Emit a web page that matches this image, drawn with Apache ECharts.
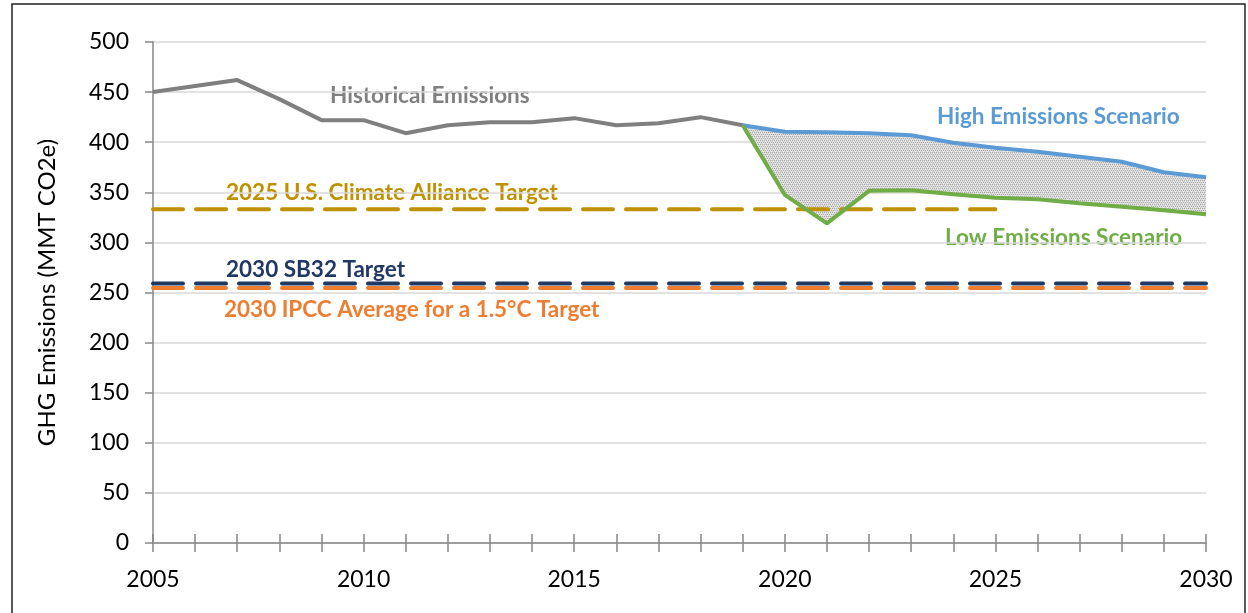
<!DOCTYPE html>
<html>
<head>
<meta charset="utf-8">
<script src="https://cdn.jsdelivr.net/npm/echarts@6/dist/echarts.min.js"></script>
<style>
  html, body { margin: 0; padding: 0; background: #fff; }
  #chart { width: 1248px; height: 613px; }
</style>
</head>
<body>
<div id="chart"></div>
<script>
// data
const years = [2005, 2006, 2007, 2008, 2009, 2010, 2011, 2012, 2013, 2014, 2015, 2016, 2017,
  2018, 2019, 2020, 2021, 2022, 2023, 2024, 2025, 2026, 2027, 2028, 2029, 2030]
const histYears = [2005, 2006, 2007, 2008, 2009, 2010, 2011, 2012, 2013, 2014, 2015, 2016, 2017, 2018, 2019]
const histValues = [450, 456, 462, 443, 422, 422, 409, 417, 420, 420, 424, 417, 419, 425, 417]
const scenYears = [2019, 2020, 2021, 2022, 2023, 2024, 2025, 2026, 2027, 2028, 2029, 2030]
const highValues = [417, 410.5, 410, 409, 407, 399.5, 394.5, 390.5, 385.5, 380.5, 370, 365]
const lowValues = [417, 347.5, 319, 351.5, 352, 348, 344.5, 343, 339, 335.5, 332, 328]
const allianceTarget = 333   // 2005 - 2025
const allianceEnd = 2025
const sb32Target = 259       // 2005 - 2030
const ipccTarget = 254.5     // 2005 - 2030
const yTicks = [0, 50, 100, 150, 200, 250, 300, 350, 400, 450, 500]

// spread a series over the full year axis, '-' where it has no value
const onYears = (xs, ys) => years.map(y => {
  const i = xs.indexOf(y)
  return i < 0 ? '-' : ys[i]
})

// dotted fill like the excel pattern
const pat = document.createElement('canvas')
pat.width = 4
pat.height = 4
const pctx = pat.getContext('2d')
pctx.fillStyle = '#dcdcdc'
pctx.fillRect(0, 0, 4, 4)
pctx.fillStyle = '#a8a8a8'
pctx.fillRect(0, 0, 1, 1)
pctx.fillRect(2, 0, 1, 1)
pctx.fillRect(1, 2, 1, 1)
pctx.fillRect(3, 2, 1, 1)
pctx.fillStyle = '#efefef'
pctx.fillRect(1, 1, 1, 1)
pctx.fillRect(3, 3, 1, 1)

const font = 'Lato, "Open Sans", sans-serif'
const dashed = (color) => ({ color: color, width: 4, type: [30, 13], cap: 'round' })

const chart = echarts.init(document.getElementById('chart'))

const label = (text, x, y, color) => ({
  type: 'text',
  left: x,
  top: y - 11,
  style: { text: text, fill: color, font: 'bold 22.5px ' + font }
})

const option = {
  animation: false,
  grid: { left: 153, right: 42, top: 42, bottom: 70 },
  xAxis: [
    {
      type: 'category',
      data: years,
      boundaryGap: false,
      axisLine: { lineStyle: { color: '#868686', width: 1.5 } },
      axisTick: { show: true, interval: 0, length: 9, lineStyle: { color: '#868686', width: 1.5 } },
      splitLine: { show: false },
      axisLabel: {
        interval: 0,
        margin: 25,
        fontSize: 23,
        fontFamily: font,
        color: '#000',
        formatter: v => (Number(v) % 5 === 0 ? String(v) : '')
      }
    },
    {
      type: 'category',
      data: years,
      boundaryGap: false,
      position: 'bottom',
      axisLine: { show: false },
      axisTick: { show: true, interval: 0, inside: true, length: 9, lineStyle: { color: '#868686', width: 1.5 } },
      axisLabel: { show: false },
      splitLine: { show: false }
    }
  ],
  yAxis: {
    type: 'value',
    min: yTicks[0],
    max: yTicks[yTicks.length - 1],
    interval: 50,
    name: 'GHG Emissions (MMT CO2e)',
    nameLocation: 'middle',
    nameGap: 94,
    nameTextStyle: { fontSize: 24, fontFamily: font, color: '#000' },
    axisLine: { show: true, lineStyle: { color: '#868686', width: 1.5 } },
    axisTick: { show: true, length: 8, lineStyle: { color: '#868686', width: 1.5 } },
    splitLine: { lineStyle: { color: '#d9d9d9', width: 1.5 } },
    axisLabel: { margin: 24, fontSize: 23, fontFamily: font, color: '#000' }
  },
  graphic: [
    {
      type: 'rect',
      shape: { x: 12, y: 4, width: 1233, height: 640 },
      style: { fill: 'none', stroke: '#222', lineWidth: 1.5 },
      silent: true
    },
    label('Historical Emissions', 330, 95, '#7f7f7f'),
    label('High Emissions Scenario', 937, 116, '#5b9bd5'),
    label('Low Emissions Scenario', 945, 237, '#70ad47'),
    label('2025 U.S. Climate Alliance Target', 226, 192, '#bf9000'),
    label('2030 SB32 Target', 226, 269, '#203864'),
    label('2030 IPCC Average for a 1.5°C Target', 224, 309, '#ed7d31')
  ],
  series: [
    {
      name: 'base',
      type: 'line',
      stack: 'band',
      symbol: 'none',
      lineStyle: { width: 0 },
      data: onYears(scenYears, lowValues),
      z: 1
    },
    {
      name: 'band',
      type: 'line',
      stack: 'band',
      symbol: 'none',
      lineStyle: { width: 0 },
      areaStyle: { color: { image: pat, repeat: 'repeat' }, opacity: 1 },
      data: onYears(scenYears, highValues.map((v, i) => v - lowValues[i])),
      z: 1
    },
    {
      name: 'Alliance',
      type: 'line',
      symbol: 'none',
      lineStyle: dashed('#bf9000'),
      data: years.map(y => (y <= allianceEnd ? allianceTarget : '-')),
      z: 3
    },
    {
      name: 'IPCC',
      type: 'line',
      symbol: 'none',
      lineStyle: dashed('#ed7d31'),
      data: years.map(() => ipccTarget),
      z: 3
    },
    {
      name: 'SB32',
      type: 'line',
      symbol: 'none',
      lineStyle: dashed('#203864'),
      data: years.map(() => sb32Target),
      z: 3
    },
    {
      name: 'Historical',
      type: 'line',
      symbol: 'none',
      lineStyle: { color: '#7f7f7f', width: 4 },
      data: onYears(histYears, histValues),
      z: 4
    },
    {
      name: 'High',
      type: 'line',
      symbol: 'none',
      lineStyle: { color: '#5b9bd5', width: 4 },
      data: onYears(scenYears, highValues),
      z: 4
    },
    {
      name: 'Low',
      type: 'line',
      symbol: 'none',
      lineStyle: { color: '#70ad47', width: 4 },
      data: onYears(scenYears, lowValues),
      z: 4
    }
  ]
}

chart.setOption(option)
</script>
</body>
</html>
